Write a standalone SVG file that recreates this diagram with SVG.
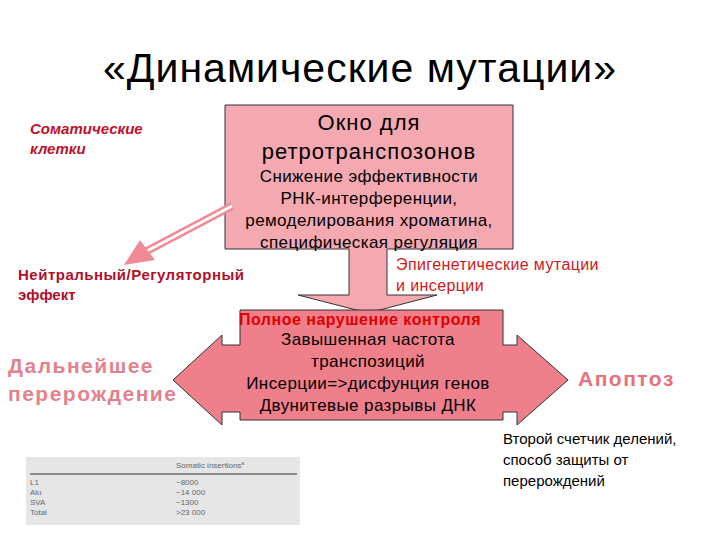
<svg xmlns="http://www.w3.org/2000/svg" width="720" height="540" viewBox="0 0 720 540">
<style>
text{font-family:"Liberation Sans",Arial,sans-serif}
.b{fill:#000;font-size:17px;text-anchor:middle;letter-spacing:0.4px}
</style>
<rect width="720" height="540" fill="#fff"/>
<text x="360" y="82" font-size="41" text-anchor="middle" letter-spacing="1">«Динамические мутации»</text>
<g id="somatic"><text x="30" y="134" font-size="15" font-weight="bold" font-style="italic" fill="#c0102a">Соматические</text><text x="30" y="154" font-size="15" font-weight="bold" font-style="italic" fill="#c0102a">клетки</text></g>
<g id="window">
<path d="M225,105H513V249H387V295H437L368,313L298,295H349V249H225Z" fill="#f4a8b0" stroke="#333" stroke-width="1"/>
<text x="369" y="130" font-size="22" text-anchor="middle" letter-spacing="1">Окно для</text>
<text x="369" y="159" font-size="22" text-anchor="middle" letter-spacing="1">ретротранспозонов</text>
<text class="b" x="369" y="182">Снижение эффективности</text>
<text class="b" x="369" y="204">РНК-интерференции,</text>
<text class="b" x="369" y="226">ремоделирования хроматина,</text>
<text class="b" x="369" y="248">специфическая регуляция</text>
</g>
<g id="connectors">
<line x1="232" y1="206" x2="145" y2="252" stroke="#f08a94" stroke-width="8"/>
<line x1="232" y1="206" x2="145" y2="252" stroke="#fff" stroke-width="3"/>
<polygon points="124,265 140,240 155,260" fill="#f08a94"/>
</g>
<g id="neutral"><text x="18" y="280" font-size="15" font-weight="bold" fill="#b0102a" letter-spacing="0.5">Нейтральный/Регуляторный</text><text x="18" y="300" font-size="15" font-weight="bold" fill="#b0102a">эффект</text></g>
<g id="epi"><text x="396" y="270" font-size="16" fill="#d01818" letter-spacing="0.4">Эпигенетические мутации</text><text x="396" y="291" font-size="16" fill="#d01818" letter-spacing="0.4">и инсерции</text></g>
<g id="control">
<path d="M240,310H503V345H517V335L568,380L517,425V412H503V420H240V412H222V425L173,380L222,335V345H240Z" fill="#ef7f8a" stroke="#333" stroke-width="1"/>
<text x="360" y="325" font-size="16" font-weight="bold" fill="#e00000" text-anchor="middle" letter-spacing="0.5">Полное нарушение контроля</text>
<text class="b" x="368" y="345">Завышенная частота</text>
<text class="b" x="368" y="367">транспозиций</text>
<text class="b" x="368" y="389">Инсерции=&gt;дисфунция генов</text>
<text class="b" x="368" y="411">Двунитевые разрывы ДНК</text>
</g>
<g id="further"><text x="8" y="373" font-size="21" font-weight="bold" fill="#e2828c" letter-spacing="1.5">Дальнейшее</text><text x="8" y="401" font-size="21" font-weight="bold" fill="#e2828c" letter-spacing="1.5">перерождение</text></g>
<g id="apoptosis"><text x="578" y="386" font-size="21" font-weight="bold" fill="#e8707c" letter-spacing="1.5">Апоптоз</text></g>
<g id="counter"><text x="503" y="444" font-size="15">Второй счетчик делений,</text><text x="503" y="465" font-size="15">способ защиты от</text><text x="503" y="486" font-size="15">перерождений</text></g>
<g id="table" font-size="8" fill="#666">
<rect x="26" y="457" width="274" height="68" fill="#e6e6e6"/>
<line x1="30" y1="474" x2="297" y2="474" stroke="#333" stroke-width="1"/>
<text x="176" y="468">Somatic insertions<tspan font-size="5" dy="-3">a</tspan></text>
<text x="30" y="485">L1</text><text x="176" y="485">~8000</text>
<text x="30" y="495">Alu</text><text x="176" y="495">~14 000</text>
<text x="30" y="505">SVA</text><text x="176" y="505">~1300</text>
<text x="30" y="515">Total</text><text x="176" y="515">&gt;23 000</text>
</g>
</svg>
